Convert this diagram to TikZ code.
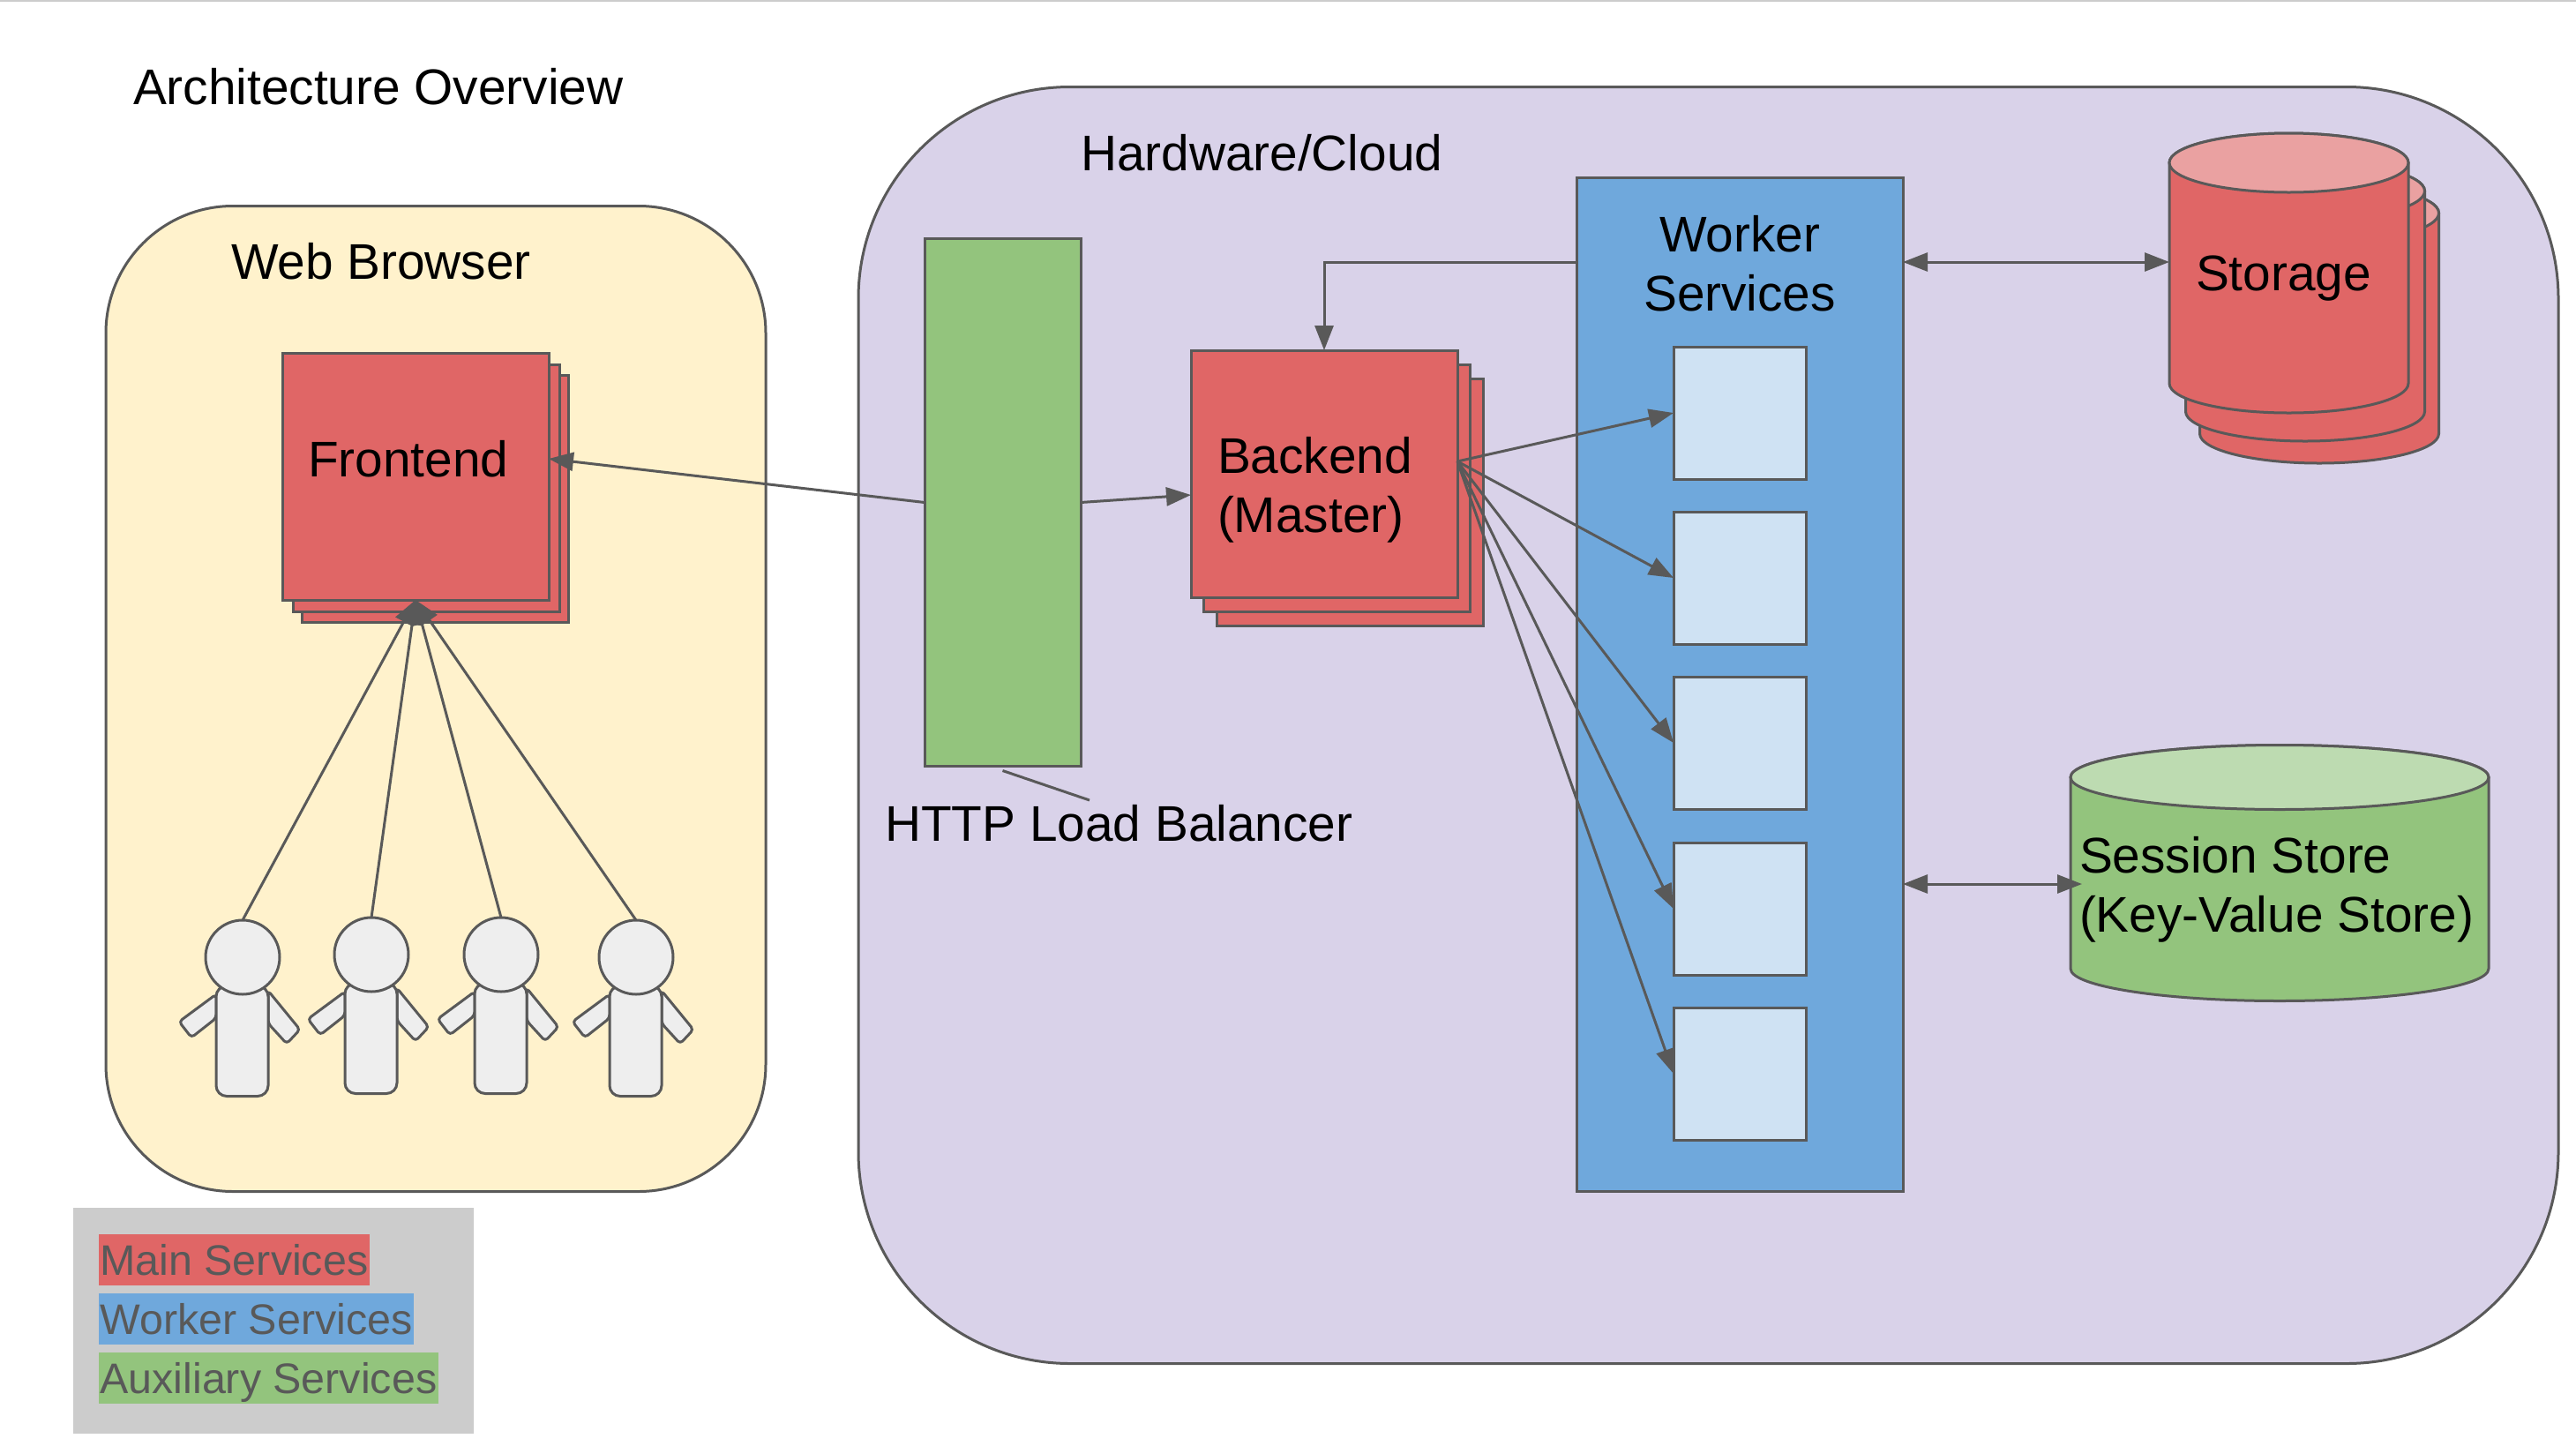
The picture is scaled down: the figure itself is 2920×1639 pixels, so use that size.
\documentclass[tikz,border=0pt]{standalone}
\usepackage{fontspec}
\setmainfont{Liberation Sans}
\usetikzlibrary{arrows.meta}
\definecolor{ln}{HTML}{595959}
\definecolor{redf}{HTML}{E06666}
\definecolor{redt}{HTML}{EAA1A1}
\definecolor{bluef}{HTML}{6FA8DC}
\definecolor{bluel}{HTML}{CFE2F3}
\definecolor{greenf}{HTML}{93C47D}
\definecolor{greent}{HTML}{BDDBB1}
\definecolor{yel}{HTML}{FFF2CC}
\definecolor{pur}{HTML}{D9D2E9}
\definecolor{gry}{HTML}{CCCCCC}
\definecolor{usr}{HTML}{EEEEEE}
\tikzset{
  x=0.5pt,y=-0.5pt,
  sz/.style 2 args={minimum width=#1*0.5pt,minimum height=#2*0.5pt,inner sep=0pt,outer sep=0pt},
  outl/.style={draw=ln,line width=1.5pt},
  redbox/.style={outl,fill=redf,rectangle},
  lbl/.style={anchor=base west,inner sep=0pt,outer sep=0pt,font=\fontsize{28.4}{33.5}\selectfont,text=black},
  conn/.style={draw=ln,line width=1.5pt,-{Triangle[length=14pt,width=10.5pt]}},
  dconn/.style={draw=ln,line width=1.5pt,{Triangle[length=14pt,width=10.5pt]}-{Triangle[length=14pt,width=10.5pt]}},
  plainconn/.style={draw=ln,line width=1.5pt},
  legbar/.style={anchor=base west,inner xsep=0.7pt,inner ysep=0pt,outer sep=0pt,text height=23pt,text depth=6pt,font=\fontsize{24.2}{28}\selectfont,text=ln},
  ufill/.style={outl,fill=usr,line join=round}
}
\newcommand{\userfig}[3]{%
  \begin{scope}[shift={(#1,#2)}]
    \draw[ufill,rounded corners=2pt] (-30,42) -- (-72,73) -- (-58,91) -- (-30,69) -- cycle;
    \draw[ufill,rounded corners=2pt] (29,38) -- (65,82) -- (50,98) -- (29,75) -- cycle;
    \node[ufill,rectangle,rounded corners=6pt,sz={59}{125}] (#3b) at (-0.5,95) {};
    \node[ufill,circle,sz={84}{84}] (#3) at (0,0) {};
  \end{scope}}
% name, cx, cy, w, h, ry, body colour, end colour
\newcommand{\cylnode}[8]{%
  \pgfmathsetmacro{\cL}{#2-#4/2}%
  \pgfmathsetmacro{\cR}{#2+#4/2}%
  \pgfmathsetmacro{\cT}{#3-#5/2+#6}%
  \pgfmathsetmacro{\cB}{#3+#5/2-#6}%
  \pgfmathsetmacro{\cX}{#4*0.25}%
  \pgfmathsetmacro{\cY}{#6*0.5}%
  \draw[outl,fill=#7,line join=round] (\cL,\cT) -- (\cL,\cB)
     arc[start angle=180,end angle=360,x radius=\cX pt,y radius=\cY pt] -- (\cR,\cT)
     arc[start angle=0,end angle=180,x radius=\cX pt,y radius=\cY pt] -- cycle;
  \draw[outl,fill=#8] (#2,\cT) ellipse[x radius=\cX pt,y radius=\cY pt];
  \node[rectangle,sz={#4}{#5}] (#1) at (#2,#3) {};}
\begin{document}
\begin{tikzpicture}
\useasboundingbox (0,0) rectangle (2920,1639);
\fill[white] (0,0) rectangle (2920,1639);
\draw[gry,line width=1pt] (0,1) -- (2920,1);

\node[lbl] (title) at (151,118) {Architecture Overview};

\node[outl,fill=yel,rectangle,rounded corners=72pt,sz={748}{1117}] (browser) at (494,792) {};
\node[lbl] (browsert) at (262,316) {Web Browser};
\node[outl,fill=pur,rectangle,rounded corners=120pt,sz={1927}{1447}] (cloud) at (1936.5,822) {};
\node[lbl] (cloudt) at (1225,193) {Hardware/Cloud};

% frontend
\node[redbox,sz={302}{280}] (fe3) at (493.5,565) {};
\node[redbox,sz={302}{280}] (fe2) at (483,553) {};
\node[redbox,sz={302}{280}] (frontend) at (471,540) {};
\node[lbl] (fet) at (349,540) {Frontend};

% users
\userfig{275}{1085}{ua}
\userfig{421}{1082}{ub}
\userfig{568}{1082}{uc}
\userfig{721}{1085}{ud}
\draw[conn] (ua.north) -- (frontend.south);
\draw[conn] (ub.north) -- (frontend.south);
\draw[conn] (uc.north) -- (frontend.south);
\draw[conn] (ud.north) -- (frontend.south);

% load balancer
\node[outl,fill=greenf,rectangle,sz={177}{598}] (lb) at (1136.5,569.5) {};
\coordinate (lbc) at (1235,907);
\draw[plainconn] (lb.south) ++(0,5) -- (lbc);
\node[lbl] (lbt) at (1003,953) {HTTP Load Balancer};
\draw[conn] (lb.west) -- ([yshift=10pt]frontend.east);

% backend
\node[redbox,sz={302}{280}] (be3) at (1530,569) {};
\node[redbox,sz={302}{280}] (be2) at (1515,553) {};
\node[redbox,sz={302}{280}] (backend) at (1501,537) {};
\node[lbl] (bet1) at (1380,536.5) {Backend};
\node[lbl] (bet2) at (1380,603.5) {(Master)};
\draw[conn] (lb.east) -- ([yshift=-12pt]backend.west);

% workers
\node[outl,fill=bluef,rectangle,sz={370}{1149}] (worker) at (1972,775.5) {};
\node[inner sep=0pt,font=\fontsize{28.4}{33.5}\selectfont,anchor=base] (wt1) at (1972,285) {Worker};
\node[inner sep=0pt,font=\fontsize{28.4}{33.5}\selectfont,anchor=base] (wt2) at (1972,352) {Services};
\node[outl,fill=bluel,rectangle,sz={150}{150}] (w1) at (1972,468) {};
\node[outl,fill=bluel,rectangle,sz={150}{150}] (w2) at (1972,655) {};
\node[outl,fill=bluel,rectangle,sz={150}{150}] (w3) at (1972,842) {};
\node[outl,fill=bluel,rectangle,sz={150}{150}] (w4) at (1972,1030) {};
\node[outl,fill=bluel,rectangle,sz={150}{150}] (w5) at (1972,1217) {};
\coordinate (beo) at ([yshift=7pt]backend.east);
\foreach \w in {w1,w2,w3,w4,w5}{\draw[conn] (beo) -- (\w.west);}
\draw[conn] (worker.west |- 0,297) -- (backend.north |- 0,297) -- (backend.north);

% storage
\cylnode{st3}{2629}{366.5}{271}{317}{33.5}{redf}{redt}
\cylnode{st2}{2613}{341.5}{271}{317}{33.5}{redf}{redt}
\cylnode{storage}{2594.5}{309.5}{271}{317}{33.5}{redf}{redt}
\node[lbl] (stt) at (2489,329) {Storage};
\draw[dconn] (worker.east |- 0,297) -- (storage.west |- 0,297);

% session
\cylnode{session}{2584}{989.5}{474}{290}{36.5}{greenf}{greent}
\node[lbl] (set1) at (2357,989) {Session Store};
\node[lbl] (set2) at (2357,1056) {(Key-Value Store)};
\draw[dconn] (worker.east |- 0,1002) -- ([xshift=6.5pt]session.west |- 0,1002);

% legend
\node[fill=gry,rectangle,sz={454}{256}] (legend) at (310,1497) {};
\node[legbar,fill=redf] (l1) at (112,1445) {Main Services};
\node[legbar,fill=bluef] (l2) at (112,1512) {Worker Services};
\node[legbar,fill=greenf] (l3) at (112,1579) {Auxiliary Services};
\end{tikzpicture}
\end{document}
